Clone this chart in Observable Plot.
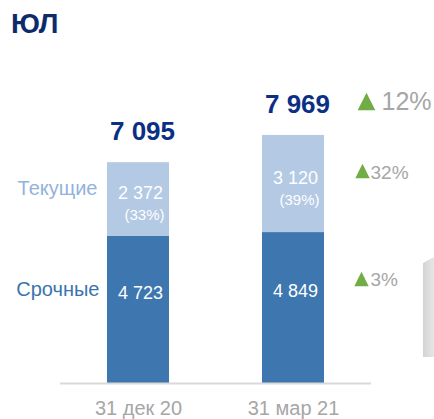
<!DOCTYPE html>
<html>
<head>
<meta charset="utf-8">
<script src="https://cdn.jsdelivr.net/npm/d3@7"></script>
<script src="https://cdn.jsdelivr.net/npm/@observablehq/plot@0.6"></script>
<style>
  html, body { margin: 0; padding: 0; background: #fff; }
  #wrap { position: relative; width: 434px; height: 419px; overflow: hidden; font-family: "Liberation Sans", Arial, sans-serif; }
  #title { height: 48px; line-height: 48px; padding-left: 11px; font-size: 28px; font-weight: bold; color: #0d2b6b; }
  #chev { position: absolute; left: 423px; top: 257px; width: 11px; height: 100px;
          background: linear-gradient(to right, #d4d4d4, #e6e6e6);
          clip-path: polygon(0 6%, 100% 0, 100% 100%, 0 100%); }
  svg { display: block; }
</style>
</head>
<body>
<div id="wrap">
  <div id="title">ЮЛ</div>
  <div id="chart"></div>
  <div id="chev"></div>
</div>
<script>
const categories = ["31 дек 20", "31 мар 21"];
const seriesNames = ["Срочные", "Текущие"];
const srochnye = [4723, 4849];
const tekushchie = [2372, 3120];
const totals = [7095, 7969];
const shares = ["(33%)", "(39%)"];
const changes = ["12%", "32%", "3%"];

const dark = "#3e77b0";
const light = "#b3c9e4";
const navy = "#0a2f85";
const grey = "#a6a6a6";
const green = "#70ad47";
const font = "Liberation Sans, Arial, sans-serif";

const fmt = d3.formatLocale({decimal: ",", thousands: " ", grouping: [3], currency: ["", ""]}).format(",");

const rows = categories.map((c, i) => ({
  cat: c, s: srochnye[i], t: tekushchie[i], total: totals[i], share: shares[i]
}));

const tri = {
  draw(ctx, size) {
    const r = Math.sqrt(size / Math.PI);
    ctx.moveTo(0, -r);
    ctx.lineTo(r, r);
    ctx.lineTo(-r, r);
    ctx.closePath();
  }
};

const last = [rows[rows.length - 1]];
const first = [rows[0]];

const chart = Plot.plot({
  width: 434,
  height: 371,
  marginLeft: 60,
  marginRight: 63,
  marginTop: 86,
  marginBottom: 36,
  style: {fontFamily: font, background: "white", overflow: "visible"},
  x: {domain: categories, paddingInner: 0.6, paddingOuter: 0.3, axis: null, label: null},
  y: {domain: [0, 8000], axis: null},
  marks: [
    Plot.barY(rows, {x: "cat", y1: 0, y2: "s", fill: dark}),
    Plot.barY(rows, {x: "cat", y1: "s", y2: d => d.s + d.t, fill: light}),
    Plot.ruleY([0], {stroke: "#d9d9d9", strokeWidth: 2}),
    Plot.axisX({tickSize: 0, tickPadding: 17, fontSize: 20, color: grey, fontFamily: font, label: null}),
    // totals
    Plot.text(rows, {x: "cat", y: "total", text: d => fmt(d.total), fill: navy, fontSize: 26, fontWeight: "bold", dx: 4, dy: -31}),
    // light segment values
    Plot.text(rows, {x: "cat", y: d => d.s + d.t / 2, text: d => fmt(d.t), fill: "white", fontSize: 18, dx: 2, dy: -6}),
    Plot.text(rows, {x: "cat", y: d => d.s + d.t / 2, text: "share", fill: "white", fontSize: 15, dx: 6, dy: 16}),
    // dark segment values
    Plot.text(rows, {x: "cat", y: d => d.s / 2, text: d => fmt(d.s), fill: "white", fontSize: 18, dx: 2, dy: -17}),
    // series labels
    Plot.text(first, {x: "cat", y: d => d.s + d.t / 2, text: () => seriesNames[1], fill: "#93b3db", fontSize: 20, textAnchor: "end", dx: -41, dy: -11}),
    Plot.text(first, {x: "cat", y: d => d.s / 2, text: () => seriesNames[0], fill: "#3a74ae", fontSize: 20, textAnchor: "end", dx: -39, dy: -20}),
    // change labels
    Plot.dot(last, {frameAnchor: "right", y: "total", symbol: tri, r: 8.8, fill: green, dx: -5, dy: -34}),
    Plot.text(last, {frameAnchor: "right", y: "total", text: () => changes[0], fill: grey, fontSize: 25, textAnchor: "start", dx: 10, dy: -33}),
    Plot.dot(last, {frameAnchor: "right", y: d => d.s + d.t / 2, symbol: tri, r: 7.2, fill: green, dx: -9, dy: -13}),
    Plot.text(last, {frameAnchor: "right", y: d => d.s + d.t / 2, text: () => changes[1], fill: grey, fontSize: 19, textAnchor: "start", dx: -1, dy: -11.5}),
    Plot.dot(last, {frameAnchor: "right", y: d => d.s / 2, symbol: tri, r: 7.2, fill: green, dx: -10, dy: -29}),
    Plot.text(last, {frameAnchor: "right", y: d => d.s / 2, text: () => changes[2], fill: grey, fontSize: 19, textAnchor: "start", dx: -1, dy: -28.5})
  ]
});
document.getElementById("chart").appendChild(chart);
</script>
</body>
</html>
